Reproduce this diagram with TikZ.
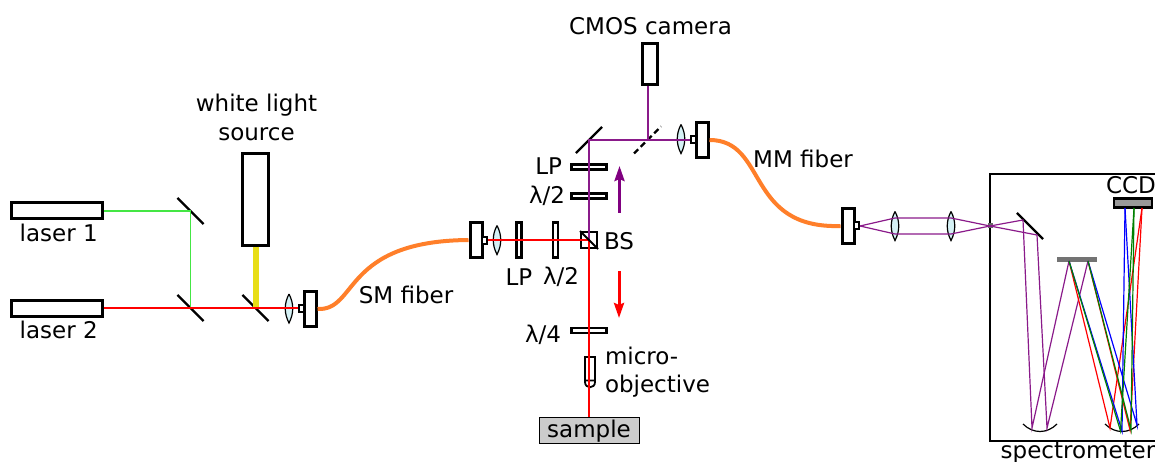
\documentclass[tikz,border=0pt]{standalone}
\usepackage{fontspec}
\setmainfont{DejaVu Sans}
\usepackage{tikz}
\usetikzlibrary{positioning,arrows.meta}

\definecolor{greenbeam}{HTML}{44E644}
\definecolor{purplebeam}{HTML}{8A1A8A}
\definecolor{fiberorange}{HTML}{FF7F2A}
\definecolor{lenscyan}{HTML}{D5F1F5}
\definecolor{purplearrow}{HTML}{800080}

\tikzset{
    lbl/.style={inner sep=0, outer sep=0, font=\fontsize{23}{28.5}\selectfont},
    box/.style={draw, line width=3pt, fill=white, inner sep=0, minimum width=#1},
    plate/.style={box=35pt, minimum height=5pt, line width=2.6pt},
    upright/.style={box=5pt, minimum height=35pt, line width=2.6pt},
    coupler/.style={box=12pt, minimum height=35pt},
    tip/.style={draw, line width=2pt, fill=white, inner sep=0, minimum width=5pt, minimum height=7pt},
    mirror/.style={draw, line width=2.4pt, inner sep=0, minimum width=37pt, minimum height=0pt, rotate=#1},
    beam/.style={line width=1.4pt},
    fiber/.style={line width=4pt, fiberorange},
    ray/.style={line width=1.2pt},
    lens/.pic={
        \draw[fill=lenscyan, line width=1.2pt] (0,-14.5) .. controls (5,-5) and (5,5) .. (0,14.5)
            .. controls (-5,5) and (-5,-5) .. (0,-14.5);
    }
}

\begin{document}
\begin{tikzpicture}[x=1pt,y=-1pt]
        \useasboundingbox (0,0) rectangle (1155,462);

        % lasers and white light
        \node[box=90.5pt, minimum height=16pt] (laserA) at (56.75,211) {};
        \node[box=90.5pt, minimum height=16pt] (laserB) at (56.75,308) {};
        \node[lbl, below=4pt of laserA, xshift=2pt] (laserAlabel) {laser 1};
        \node[lbl, below=4pt of laserB, xshift=2pt] (laserBlabel) {laser 2};
        \node[box=26pt, minimum height=91pt] (whitelight) at (255.5,199.5) {};
        \node[lbl, align=center, above=12pt of whitelight, xshift=1pt] (whitelabel) {white light\\source};

        \node[mirror=-45] (mirrorA) at (190.5,211) {};
        \node[mirror=-45] (mirrorB) at (190.5,308) {};
        \node[mirror=-45] (mirrorC) at (255.5,308) {};

        % fiber couplers
        \pic at (289,308.5) {lens};
        \node[coupler] (couplerA) at (310,309) {};
        \node[tip] (tipA) at (301.5,308) {};
        \node[coupler] (couplerB) at (476,240) {};
        \node[tip] (tipB) at (484.5,240) {};
        \pic at (497,240) {lens};
        \pic at (681,139) {lens};
        \node[coupler] (couplerC) at (702,140) {};
        \node[tip] (tipC) at (693.5,140) {};
        \node[coupler] (couplerD) at (848,226) {};
        \node[tip] (tipD) at (856.5,226) {};
        \pic at (895,226) {lens};
        \pic at (951,226) {lens};
        \node[lbl, anchor=base] (smlabel) at (406,303) {SM fiber};
        \node[lbl, anchor=base] (mmlabel) at (803,168) {MM fiber};

        % central part
        \node[upright] (lpH) at (519,240) {};
        \node[upright] (halfH) at (555.5,240) {};
        \node[draw, line width=2pt, fill=white, inner sep=0, minimum size=16pt] (bs) at (589,240) {};
        \node[plate] (lpV) at (589,167) {};
        \node[plate] (halfV) at (589,196) {};
        \node[plate] (quarter) at (589,330.5) {};
        \node[mirror=45] (mirrorD) at (589,140) {};
        \coordinate (splitter) at (648,140);
        \draw[line width=2.4pt, dash pattern=on 6pt off 3.5pt] (splitter) +(-14,13.5) -- +(13,-13.5);
        \node[box=15pt, minimum height=41pt, line width=2.6pt] (camera) at (650,64) {};
        \node[draw, line width=1pt, fill=black!20, inner sep=0, minimum width=100pt, minimum height=26pt] (sample) at (589,430) {};
        \node[lbl, anchor=base] at (sample.center |- 0,437) (samplelabel) {sample};
        \draw[line width=1.8pt, fill=white] (585,357) -- (595,357) -- (595,382)
            .. controls (595,389) and (585,389) .. (585,382) -- cycle (585,380.5) -- (595,380.5);

        \node[lbl, anchor=base] (cameralabel) at (650.5,35) {CMOS camera};
        \node[lbl, anchor=base east] (lpVlabel) at (562,175) {LP};
        \node[lbl, anchor=base east] (halfVlabel) at (565,204) {λ/2};
        \node[lbl, anchor=base east] (quarterlabel) at (561,342) {λ/4};
        \node[lbl, anchor=base] (lpHlabel) at (519,285) {LP};
        \node[lbl, anchor=base] (halfHlabel) at (561,284) {λ/2};
        \node[lbl, anchor=base west] (bslabel) at (604,249) {BS};
        \node[lbl, align=left, anchor=west] (objectivelabel) at (605,372) {micro-\\objective};

        % beams
        \draw[line width=6pt, yellow!90!black] (whitelight.south) -- (mirrorC.center);
        \draw[beam, greenbeam] (laserA.east) -- (mirrorA.center) -- (mirrorB.center);
        \draw[beam, red] (laserB.east) -- (tipA.west);
        \draw[beam, red] (tipB.east) -- (bs.center) -- (sample.north);
        \draw[beam, purplebeam] (bs.center) -- (mirrorD.center) -- (tipC.west);
        \draw[beam, purplebeam] (camera.south -| splitter) -- (splitter);
        \draw[line width=1.8pt] (bs.north west) -- (bs.south east);

        % direction arrows
        \coordinate (upstart) at (619.5,213);
        \coordinate (upend) at (619.5,166);
        \coordinate (downstart) at (619,271);
        \coordinate (downend) at (619,318);
        \draw[-{Stealth[length=15pt,width=10pt,inset=2pt]}, line width=3pt, purplearrow] (upstart) -- (upend);
        \draw[-{Stealth[length=15pt,width=10pt,inset=2pt]}, line width=3pt, red] (downstart) -- (downend);

        % fibers
        \draw[fiber] (couplerA.east) .. controls (358,311) and (342,241) .. (couplerB.west);
        \draw[fiber] (couplerC.east) .. controls (768,140) and (745,229) .. (couplerD.west);

        % spectrometer
        \draw[line width=1.4pt] (1155,174) -- (990,174) -- (990,441) -- (1155,441);
        \node[lbl, anchor=base] (ccdlabel) at (1131,194) {CCD};
        \node[lbl, anchor=base] (speclabel) at (1078,458) {spectrometer};
        \node[draw, line width=2.4pt, fill=black!40, inner sep=0, minimum width=38pt, minimum height=9pt] (ccd) at (1133,203) {};
        \node[fill=black!55, inner sep=0, minimum width=40pt, minimum height=5pt] (grating) at (1077,259) {};
        \node[mirror=-45] (mirrorE) at (1030,226) {};
        \node[fill=black!60, inner sep=0, minimum size=5pt] (pinhole) at (990,226) {};
        \draw[line width=1.2pt] (1023,424) .. controls (1033,434) and (1047,434) .. (1057,424);
        \draw[line width=1.2pt] (1105,424) .. controls (1115,434) and (1129,434) .. (1139,424);

        \coordinate (inA) at (895,218);
        \coordinate (inB) at (895,234);
        \coordinate (outA) at (951,218);
        \coordinate (outB) at (951,234);
        \coordinate (foldA) at (1023,220);
        \coordinate (foldB) at (1037,235);
        \coordinate (curveA) at (1032,428);
        \coordinate (curveB) at (1047,428);
        \coordinate (gratingA) at (1069,261);
        \coordinate (gratingB) at (1088,261);
        \coordinate (ccdblue) at (1125,208);
        \coordinate (ccdgreen) at (1134,208);
        \coordinate (ccdred) at (1142,208);

        \draw[ray, purplebeam] (tipD.east) -- (inA) -- (outA) -- (pinhole.center) -- (foldB) -- (curveB) -- (gratingB);
        \draw[ray, purplebeam] (tipD.east) -- (inB) -- (outB) -- (pinhole.center) -- (foldA) -- (curveA) -- (gratingA);
        \draw[ray, red] (gratingA) -- (1110,428) -- (ccdred);
        \draw[ray, red] (gratingB) -- (1130,430) -- (ccdred);
        \draw[ray, blue] (gratingA) -- (1122,431) -- (ccdblue);
        \draw[ray, blue] (gratingB) -- (1137,425) -- (ccdblue);
        \draw[ray, green!50!black] (gratingA) -- (1120.5,431) -- (ccdgreen);
        \draw[ray, green!50!black] (gratingB) -- (1131,430) -- (ccdgreen);
\end{tikzpicture}
\end{document}
